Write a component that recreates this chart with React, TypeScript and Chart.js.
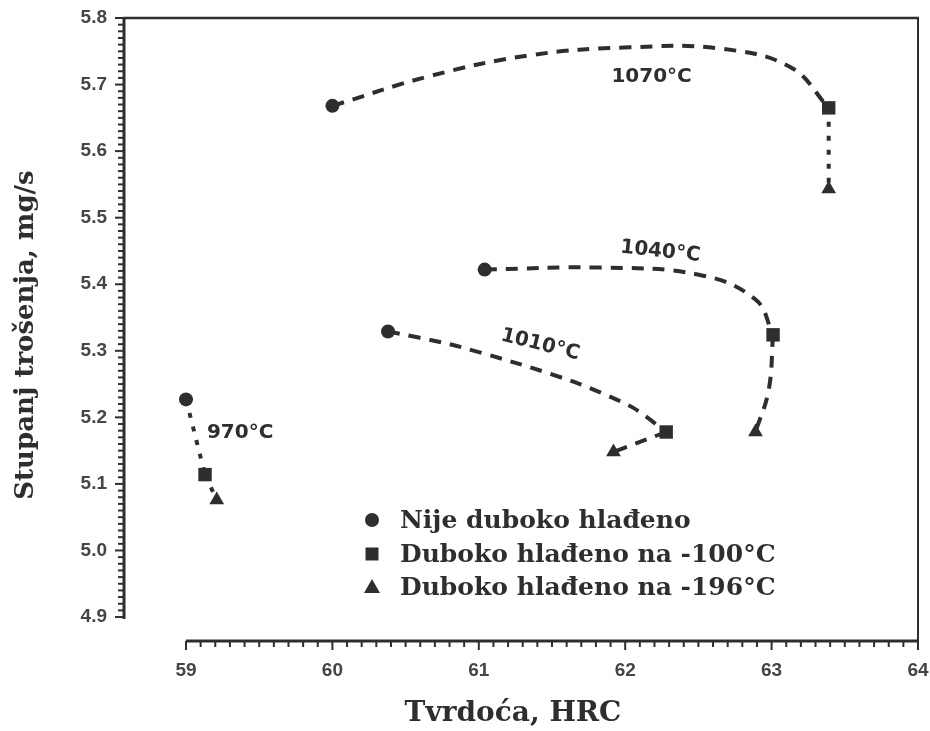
import { useEffect, useRef } from 'react';
import { Chart, registerables } from 'chart.js';

Chart.register(...registerables);

// ---- data ----
const xTickValues = [59, 60, 61, 62, 63, 64];
const yTickValues = [4.9, 5.0, 5.1, 5.2, 5.3, 5.4, 5.5, 5.6, 5.7, 5.8];

const temperatures = ['970°C', '1010°C', '1040°C', '1070°C'];

// markers, one per temperature (970, 1010, 1040, 1070)
const circleX = [59.0, 60.38, 61.04, 60.0];
const circleY = [5.227, 5.329, 5.422, 5.668];
const squareX = [59.13, 62.28, 63.01, 63.39];
const squareY = [5.114, 5.178, 5.324, 5.665];
const triangleX = [59.21, 61.92, 62.89, 63.39];
const triangleY = [5.076, 5.148, 5.178, 5.543];

// dashed curves (circle -> square)
const curve970X = [59.0, 59.13];
const curve970Y = [5.227, 5.114];
const curve1010X = [60.38, 60.8, 61.28, 61.69, 62.05, 62.28];
const curve1010Y = [5.329, 5.31, 5.28, 5.25, 5.215, 5.178];
const curve1040X = [61.04, 61.83, 62.51, 62.89, 63.01];
const curve1040Y = [5.422, 5.425, 5.414, 5.377, 5.324];
const curve1070X = [60.0, 60.67, 61.35, 62.03, 62.65, 63.13, 63.39];
const curve1070Y = [5.668, 5.713, 5.744, 5.756, 5.754, 5.726, 5.665];

// links (square -> triangle)
const link970X = [59.13, 59.21];
const link970Y = [5.114, 5.076];
const link1010X = [62.28, 61.92];
const link1010Y = [5.178, 5.148];
const link1040X = [63.01, 62.98, 62.89];
const link1040Y = [5.324, 5.241, 5.178];
const link1070X = [63.39, 63.39];
const link1070Y = [5.665, 5.543];

// temperature annotation anchors (data coordinates) and tilt
const tempLabelX = [59.37, 61.42, 62.24, 62.18];
const tempLabelY = [5.177, 5.309, 5.449, 5.711];
const tempLabelAngle = [0, 14, 6, 0];

const legendLabels = [
  'Nije duboko hlađeno',
  'Duboko hlađeno na -100°C',
  'Duboko hlađeno na -196°C',
];

const xTitle = 'Tvrdoća, HRC';
const yTitle = 'Stupanj trošenja, mg/s';

// ---- styling ----
const INK = '#2e2e2e';
const TICK_INK = '#454545';
const SERIF = '"DejaVu Serif", "Liberation Serif", serif';
const SANS = '"DejaVu Sans", "Liberation Sans", sans-serif';

const zip = (xs: number[], ys: number[]) => xs.map((x, i) => ({ x, y: ys[i] }));

function drawMarker(ctx: CanvasRenderingContext2D, kind: string, x: number, y: number) {
  ctx.beginPath();
  if (kind === 'circle') {
    ctx.arc(x, y, 7, 0, Math.PI * 2);
  } else if (kind === 'rect') {
    ctx.rect(x - 6.5, y - 6.5, 13, 13);
  } else {
    ctx.moveTo(x, y - 8);
    ctx.lineTo(x + 8, y + 6);
    ctx.lineTo(x - 8, y + 6);
    ctx.closePath();
  }
  ctx.fill();
}

const decoPlugin = {
  id: 'deco',
  afterDraw(chart: any) {
    const { ctx, chartArea: ca, scales } = chart;
    const xs = scales.x;
    const ys = scales.y;
    const line = (x1: number, y1: number, x2: number, y2: number) => {
      ctx.beginPath();
      ctx.moveTo(x1, y1);
      ctx.lineTo(x2, y2);
      ctx.stroke();
    };
    ctx.save();
    ctx.strokeStyle = INK;
    ctx.fillStyle = INK;
    ctx.lineCap = 'butt';

    // frame: top and right
    ctx.lineWidth = 2.5;
    line(ca.left - 1, ca.top, ca.right + 1, ca.top);
    ctx.lineWidth = 2;
    line(ca.right, ca.top, ca.right, ca.bottom);

    // y axis ruler
    const yBot = ys.getPixelForValue(yTickValues[0]);
    ctx.lineWidth = 3;
    line(ca.left, ca.top - 1, ca.left, yBot + 2);
    ctx.lineWidth = 2;
    const yFirst = yTickValues[0];
    const ySteps = Math.round((yTickValues[yTickValues.length - 1] - yFirst) / 0.01);
    for (let i = 0; i <= ySteps; i++) {
      const py = ys.getPixelForValue(yFirst + i * 0.01);
      const len = i % 10 === 0 ? 9 : 6;
      line(ca.left - len, py, ca.left, py);
    }

    // x axis ruler
    const xFirst = xTickValues[0];
    const xLast = xTickValues[xTickValues.length - 1];
    const xl = xs.getPixelForValue(xFirst);
    ctx.lineWidth = 3;
    line(xl, ca.bottom, ca.right + 1, ca.bottom);
    ctx.lineWidth = 2;
    const xSteps = Math.round((xLast - xFirst) / 0.1);
    for (let i = 0; i <= xSteps; i++) {
      const px = xs.getPixelForValue(xFirst + i * 0.1);
      const len = i % 10 === 0 ? 9 : 6;
      line(px, ca.bottom, px, ca.bottom + len);
    }

    // temperature annotations
    ctx.font = `bold 20px ${SANS}`;
    ctx.textAlign = 'center';
    ctx.textBaseline = 'middle';
    temperatures.forEach((t, i) => {
      const px = xs.getPixelForValue(tempLabelX[i]);
      const py = ys.getPixelForValue(tempLabelY[i]);
      ctx.save();
      ctx.translate(px, py);
      ctx.rotate((tempLabelAngle[i] * Math.PI) / 180);
      ctx.fillText(t, 0, 0);
      ctx.restore();
    });

    // legend inside the plot
    const kinds = ['circle', 'rect', 'triangle'];
    const lx = ca.left + 248;
    const ly = [520, 554, 587];
    ctx.font = `bold 25px ${SERIF}`;
    ctx.textAlign = 'left';
    ctx.textBaseline = 'middle';
    legendLabels.forEach((lab, i) => {
      drawMarker(ctx, kinds[i], lx, ly[i]);
      ctx.fillText(lab, lx + 28, ly[i] + 1);
    });

    // axis titles
    ctx.textAlign = 'center';
    ctx.textBaseline = 'middle';
    ctx.font = `bold 28px ${SERIF}`;
    ctx.fillText(xTitle, 513, 714);
    ctx.font = `bold 26px ${SERIF}`;
    ctx.save();
    ctx.translate(26, 335);
    ctx.rotate(-Math.PI / 2);
    ctx.fillText(yTitle, 0, 0);
    ctx.restore();

    ctx.restore();
  },
};

export default function App() {
  const ref = useRef<HTMLCanvasElement | null>(null);

  useEffect(() => {
    if (!ref.current) return;
    const curveStyle = {
      showLine: true,
      pointRadius: 0,
      borderColor: INK,
      borderWidth: 4,
      borderDash: [12, 9],
      fill: false,
    };
    const linkStyle = { ...curveStyle, borderDash: [5, 9], tension: 0 };
    const tickFont = { family: '"Liberation Sans", Arial, sans-serif', size: 19, weight: 'bold' };

    const chart = new Chart(ref.current, {
      type: 'scatter',
      data: {
        datasets: [
          { label: '970 a', data: zip(curve970X, curve970Y), ...linkStyle, order: 5 },
          { label: '1010 a', data: zip(curve1010X, curve1010Y), ...curveStyle, tension: 0.25, order: 5 },
          { label: '1040 a', data: zip(curve1040X, curve1040Y), ...curveStyle, tension: 0.4, order: 5 },
          { label: '1070 a', data: zip(curve1070X, curve1070Y), ...curveStyle, tension: 0.4, order: 5 },
          { label: '970 b', data: zip(link970X, link970Y), ...linkStyle, order: 5 },
          { label: '1010 b', data: zip(link1010X, link1010Y), ...curveStyle, tension: 0, order: 5 },
          { label: '1040 b', data: zip(link1040X, link1040Y), ...curveStyle, tension: 0.4, order: 5 },
          { label: '1070 b', data: zip(link1070X, link1070Y), ...linkStyle, order: 5 },
          {
            label: legendLabels[0],
            data: zip(circleX, circleY),
            pointStyle: 'circle',
            pointRadius: 7,
            backgroundColor: INK,
            borderColor: INK,
            borderWidth: 0,
            order: 1,
          },
          {
            label: legendLabels[1],
            data: zip(squareX, squareY),
            pointStyle: 'rect',
            pointRadius: 9.5,
            backgroundColor: INK,
            borderColor: INK,
            borderWidth: 0,
            order: 1,
          },
          {
            label: legendLabels[2],
            data: zip(triangleX, triangleY),
            pointStyle: 'triangle',
            pointRadius: 8.5,
            backgroundColor: INK,
            borderColor: INK,
            borderWidth: 0,
            order: 1,
          },
        ] as any,
      },
      options: {
        animation: false,
        responsive: false,
        events: [],
        layout: { padding: { top: 18, right: 12, left: 0, bottom: 0 } },
        plugins: {
          legend: { display: false },
          tooltip: { enabled: false },
        },
        scales: {
          x: {
            type: 'linear',
            min: 58.5765,
            max: 64,
            grid: { display: false, drawTicks: false },
            border: { display: false },
            afterBuildTicks: (s: any) => {
              s.ticks = xTickValues.map((v) => ({ value: v }));
            },
            afterFit: (s: any) => {
              s.height = 90;
              s.paddingLeft = 0;
              s.paddingRight = 0;
              s.paddingTop = 0;
              s.paddingBottom = 0;
            },
            ticks: {
              autoSkip: false,
              maxRotation: 0,
              padding: 18,
              color: TICK_INK,
              font: tickFont,
              callback: (v: any) => String(v),
            },
          },
          y: {
            type: 'linear',
            min: 4.864,
            max: 5.8,
            grid: { display: false, drawTicks: false },
            border: { display: false },
            afterBuildTicks: (s: any) => {
              s.ticks = yTickValues.map((v) => ({ value: v }));
            },
            afterFit: (s: any) => {
              s.width = 124;
              s.paddingLeft = 0;
              s.paddingRight = 0;
              s.paddingTop = 0;
              s.paddingBottom = 0;
            },
            ticks: {
              autoSkip: false,
              padding: 17,
              color: TICK_INK,
              font: tickFont,
              callback: (v: any) => Number(v).toFixed(1),
            },
          },
        },
      } as any,
      plugins: [decoPlugin],
    });
    return () => chart.destroy();
  }, []);

  return (
    <div style={{ position: 'fixed', left: 0, top: 0, width: 930, height: 731, background: '#fff' }}>
      <canvas ref={ref} width={930} height={731} style={{ display: 'block' }} />
    </div>
  );
}
